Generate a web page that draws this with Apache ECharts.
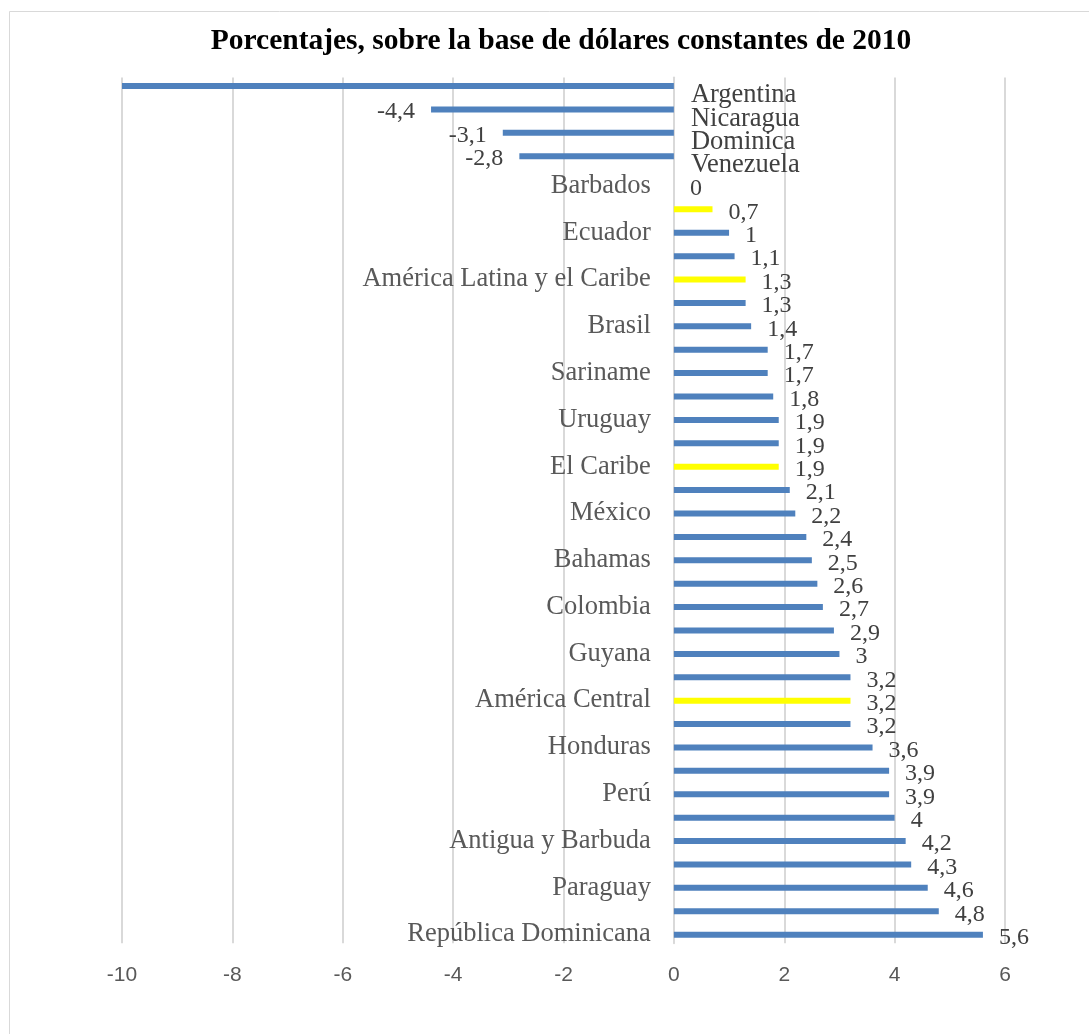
<!DOCTYPE html>
<html>
<head>
<meta charset="utf-8">
<script src="https://cdn.jsdelivr.net/npm/echarts@6/dist/echarts.min.js"></script>
<style>
  html, body { margin: 0; padding: 0; background: #ffffff; }
  #chart { width: 1089px; height: 1034px; }
</style>
</head>
<body>
<div id="chart"></div>
<script>
// ---- Data (top to bottom) ----
const categories = [
  'Argentina', 'Nicaragua', 'Dominica', 'Venezuela', 'Barbados',
  'América del Sur', 'Ecuador', 'Trinidad y Tabago', 'América Latina y el Caribe', 'Jamaica',
  'Brasil', 'Belice', 'Sariname', 'Haití', 'Uruguay',
  'San Vicente y las Granadinas', 'El Caribe', 'Chile', 'México', 'Costa Rica',
  'Bahamas', 'Santa Lucía', 'Colombia', 'El Salvador', 'Guyana',
  'Cuba', 'América Central', 'Granada', 'Honduras', 'Guatemala',
  'Perú', 'Saint Kitts y Nevis', 'Antigua y Barbuda', 'Bolivia', 'Paraguay',
  'Panamá', 'República Dominicana'
];
const values = [
  -10, -4.4, -3.1, -2.8, 0,
  0.7, 1, 1.1, 1.3, 1.3,
  1.4, 1.7, 1.7, 1.8, 1.9,
  1.9, 1.9, 2.1, 2.2, 2.4,
  2.5, 2.6, 2.7, 2.9, 3,
  3.2, 3.2, 3.2, 3.6, 3.9,
  3.9, 4, 4.2, 4.3, 4.6,
  4.8, 5.6
];
// regional aggregates (highlighted)
const aggregates = ['América del Sur', 'América Latina y el Caribe', 'El Caribe', 'América Central'];
// value axis ticks
const xMin = -10, xMax = 6, xStep = 2;
const titleText = 'Porcentajes, sobre la base de dólares constantes de 2010';

// ---- Styles / layout ----
const BLUE = '#4f81bd';
const YELLOW = '#ffff00';
const GRID = '#d9d9d9';
const SERIF = '"Liberation Serif", "Times New Roman", serif';
const SANS = '"Liberation Sans", Arial, sans-serif';
const W = 1089, GRID_LEFT = 122, GRID_RIGHT = 84;
const plotW = W - GRID_LEFT - GRID_RIGHT;
// shift category axes so they sit on the zero line
const zeroShift = plotW * (0 - xMin) / (xMax - xMin);

const fmt = v => String(v).replace('.', ',');
const colorOf = i => (aggregates.includes(categories[i]) ? YELLOW : BLUE);

// negative values series (upper bar of each band)
const negData = values.map((v, i) => (v < 0 ? {
  value: v,
  itemStyle: { color: colorOf(i) },
  label: { show: v > xMin }
} : '-'));
// non-negative values series (lower bar of each band)
const posData = values.map((v, i) => (v >= 0 ? {
  value: v,
  itemStyle: { color: colorOf(i) }
} : '-'));

const chart = echarts.init(document.getElementById('chart'), null, { renderer: 'canvas' });
chart.setOption({
  backgroundColor: '#ffffff',
  animation: false,
  graphic: [{
    type: 'rect',
    shape: { x: 9.5, y: 11.5, width: 1200, height: 1200 },
    style: { fill: 'none', stroke: GRID, lineWidth: 1 },
    silent: true,
    z: -10
  }],
  title: {
    text: titleText,
    left: 556,
    top: 21,
    textAlign: 'center',
    textStyle: { fontFamily: SERIF, fontWeight: 'bold', fontSize: 29.5, color: '#000000' }
  },
  grid: {
    left: GRID_LEFT, right: GRID_RIGHT, top: 77.5, bottom: 90.8,
    containLabel: false,
    outerBoundsMode: 'none'
  },
  xAxis: {
    type: 'value',
    min: xMin, max: xMax, interval: xStep,
    axisLine: { show: false },
    axisTick: { show: false },
    splitLine: { show: true, lineStyle: { color: GRID, width: 2 } },
    axisLabel: { fontFamily: SANS, fontSize: 21, color: '#595959', margin: 22 }
  },
  yAxis: [
    {
      type: 'category',
      data: categories,
      inverse: true,
      offset: -zeroShift,
      axisLine: { show: true, onZero: false, lineStyle: { color: GRID, width: 2 } },
      axisTick: { show: false },
      splitLine: { show: false },
      axisLabel: {
        interval: 0,
        margin: 23,
        fontFamily: SERIF,
        fontSize: 26.5,
        color: '#595959',
        verticalAlign: 'top',
        lineHeight: 6,
        formatter: (val, idx) => (idx >= 4 && idx % 2 === 0 ? val : '')
      }
    },
    {
      // names of the negative rows, written to the right of the zero line
      type: 'category',
      data: categories,
      inverse: true,
      position: 'left',
      offset: -zeroShift,
      axisLine: { show: false, onZero: false },
      axisTick: { show: false },
      splitLine: { show: false },
      axisLabel: {
        inside: true,
        interval: 0,
        margin: 17,
        fontFamily: SERIF,
        fontSize: 26.5,
        color: '#404040',
        verticalAlign: 'top',
        lineHeight: 12,
        formatter: (val, idx) => (values[idx] < 0 ? val : '')
      }
    }
  ],
  series: [
    {
      name: 'negativos',
      type: 'bar',
      data: negData,
      barWidth: 6,
      barGap: '5%',
      label: {
        show: true,
        position: 'left',
        distance: 16,
        offset: [0, 2.5],
        fontFamily: SERIF,
        fontSize: 24,
        color: '#404040',
        formatter: p => fmt(p.value)
      }
    },
    {
      name: 'positivos',
      type: 'bar',
      data: posData,
      barWidth: 6,
      barGap: '5%',
      label: {
        show: true,
        position: 'right',
        distance: 16,
        offset: [0, 3],
        fontFamily: SERIF,
        fontSize: 24,
        color: '#404040',
        formatter: p => fmt(p.value)
      }
    }
  ]
});
</script>
</body>
</html>
